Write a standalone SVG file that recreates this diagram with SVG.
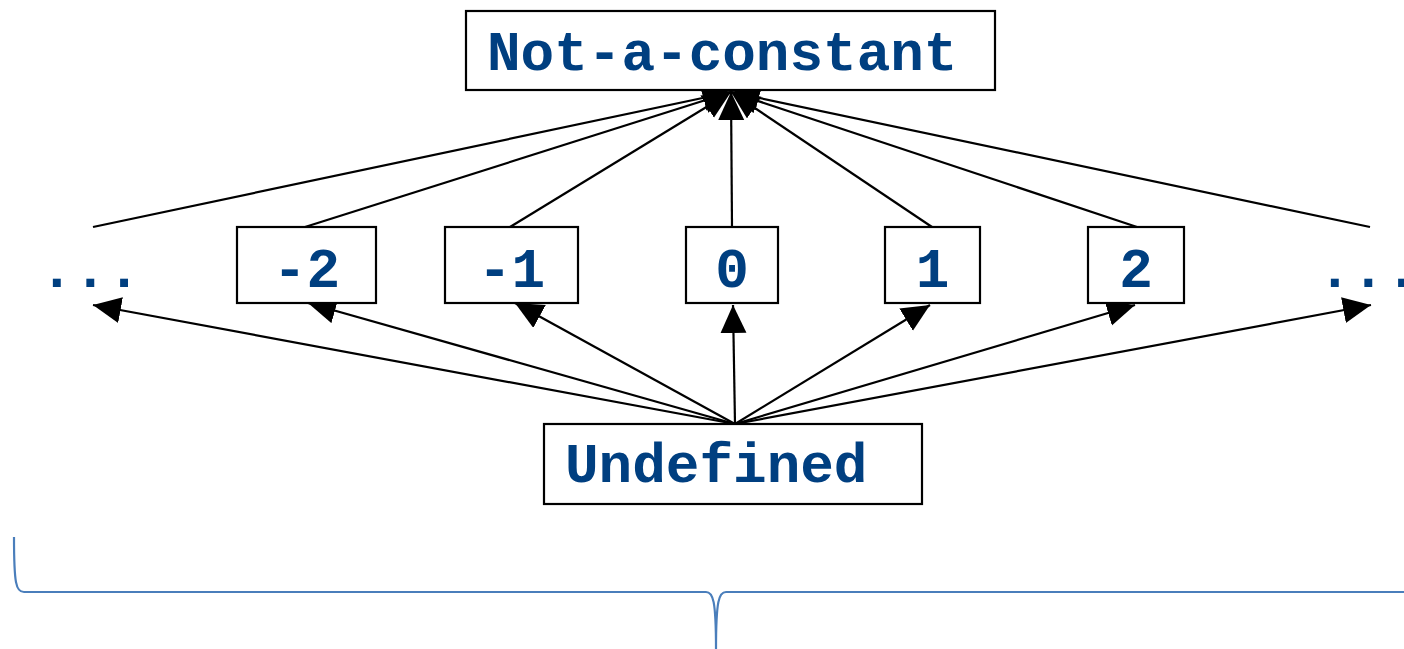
<svg xmlns="http://www.w3.org/2000/svg" width="1404" height="649" viewBox="0 0 1404 649">
<style>
.box{fill:#fff;stroke:#000;stroke-width:2.2}
.t{font-family:"Liberation Mono","Courier New",monospace;font-weight:bold;font-size:56px;fill:#003f80}
.c{stroke:#000;stroke-width:2.2;fill:none}
.brace{stroke:#4a7ebb;stroke-width:2.2;fill:none}
</style>
<defs>
<marker id="ah" markerUnits="userSpaceOnUse" markerWidth="30" markerHeight="28" refX="28" refY="13" orient="auto">
<path d="M0,0 L28,13 L0,26 z" fill="#000"/>
</marker>
</defs>
<rect width="1404" height="649" fill="#fff"/>
<g id="connectors">
<line class="c" x1="93" y1="227" x2="731" y2="92" marker-end="url(#ah)"/>
<line class="c" x1="305" y1="227" x2="731" y2="92" marker-end="url(#ah)"/>
<line class="c" x1="510" y1="227" x2="731" y2="92" marker-end="url(#ah)"/>
<line class="c" x1="732" y1="227" x2="731" y2="92" marker-end="url(#ah)"/>
<line class="c" x1="932" y1="227" x2="731" y2="92" marker-end="url(#ah)"/>
<line class="c" x1="1137" y1="227" x2="731" y2="92" marker-end="url(#ah)"/>
<line class="c" x1="1370" y1="227" x2="731" y2="92" marker-end="url(#ah)"/>
<line class="c" x1="735" y1="424" x2="93" y2="305" marker-end="url(#ah)"/>
<line class="c" x1="735" y1="424" x2="308" y2="303" marker-end="url(#ah)"/>
<line class="c" x1="735" y1="424" x2="515" y2="303" marker-end="url(#ah)"/>
<line class="c" x1="735" y1="424" x2="733" y2="305" marker-end="url(#ah)"/>
<line class="c" x1="735" y1="424" x2="930" y2="305" marker-end="url(#ah)"/>
<line class="c" x1="735" y1="424" x2="1135" y2="305" marker-end="url(#ah)"/>
<line class="c" x1="735" y1="424" x2="1371" y2="305" marker-end="url(#ah)"/>
</g>
<g id="top">
<rect class="box" x="466" y="11" width="529" height="79"/>
<text class="t" x="487" y="70">Not-a-constant</text>
</g>
<g id="dotsL"><text class="t" x="40" y="287">...</text></g>
<g id="m2"><rect class="box" x="237" y="227" width="139" height="76"/><text class="t" x="306.5" y="287" text-anchor="middle">-2</text></g>
<g id="m1"><rect class="box" x="445" y="227" width="133" height="76"/><text class="t" x="511.5" y="287" text-anchor="middle">-1</text></g>
<g id="z0"><rect class="box" x="686" y="227" width="92" height="76"/><text class="t" x="732" y="287" text-anchor="middle">0</text></g>
<g id="p1"><rect class="box" x="885" y="227" width="95" height="76"/><text class="t" x="932.5" y="287" text-anchor="middle">1</text></g>
<g id="p2"><rect class="box" x="1088" y="227" width="96" height="76"/><text class="t" x="1136" y="287" text-anchor="middle">2</text></g>
<g id="dotsR"><text class="t" x="1318" y="287">...</text></g>
<g id="bottom">
<rect class="box" x="544" y="424" width="378" height="80"/>
<text class="t" x="565" y="482">Undefined</text>
</g>
<path class="brace" d="M14,537 C14,584 16,592 24,592 L706,592 C713,592 716,600 716,649 M716,649 C716,600 719,592 726,592 L1404,592"/>
</svg>
